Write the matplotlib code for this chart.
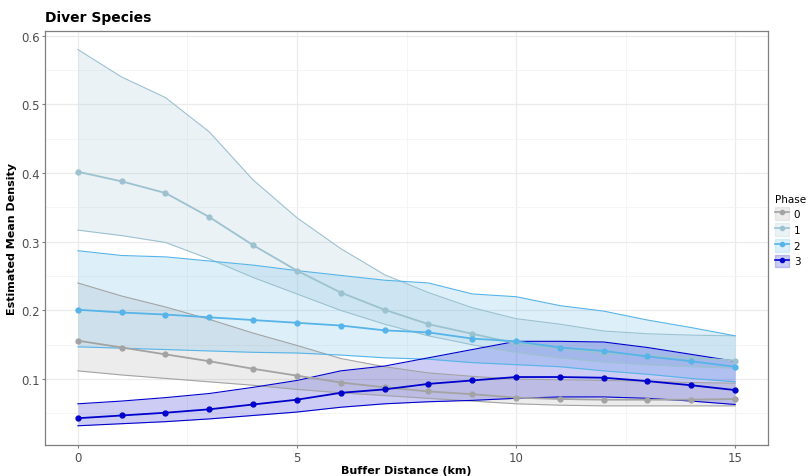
import numpy as np
import matplotlib.pyplot as plt
from matplotlib.lines import Line2D
from matplotlib.patches import Patch

# buffer distances (km)
distance = list(range(16))

phases = ["0", "1", "2", "3"]
colors = ["#A3A3A3", "#9CC2D0", "#56B4E9", "#0000CD"]

mean_0 = [0.156, 0.146, 0.136, 0.126, 0.115, 0.105, 0.095, 0.088, 0.082, 0.078,
          0.073, 0.071, 0.070, 0.070, 0.070, 0.071]
upper_0 = [0.240, 0.221, 0.205, 0.187, 0.167, 0.149, 0.130, 0.118, 0.109, 0.104,
           0.100, 0.099, 0.098, 0.097, 0.095, 0.094]
lower_0 = [0.112, 0.106, 0.101, 0.096, 0.091, 0.085, 0.080, 0.076, 0.072, 0.068,
           0.064, 0.062, 0.061, 0.061, 0.061, 0.061]

mean_1 = [0.402, 0.388, 0.371, 0.336, 0.295, 0.258, 0.226, 0.201, 0.180, 0.166,
          0.152, 0.145, 0.138, 0.134, 0.131, 0.127]
upper_1 = [0.580, 0.540, 0.510, 0.460, 0.390, 0.335, 0.290, 0.252, 0.226, 0.204,
           0.188, 0.180, 0.170, 0.166, 0.164, 0.163]
lower_1 = [0.317, 0.309, 0.299, 0.275, 0.248, 0.224, 0.200, 0.180, 0.163, 0.150,
           0.139, 0.131, 0.125, 0.121, 0.118, 0.116]

mean_2 = [0.201, 0.197, 0.194, 0.190, 0.186, 0.182, 0.178, 0.171, 0.168, 0.159,
          0.155, 0.146, 0.141, 0.133, 0.126, 0.118]
upper_2 = [0.287, 0.280, 0.278, 0.272, 0.266, 0.258, 0.251, 0.244, 0.240, 0.224,
           0.220, 0.207, 0.199, 0.186, 0.175, 0.163]
lower_2 = [0.147, 0.145, 0.143, 0.141, 0.139, 0.138, 0.135, 0.131, 0.129, 0.124,
           0.121, 0.118, 0.112, 0.107, 0.101, 0.096]

mean_3 = [0.043, 0.047, 0.051, 0.056, 0.063, 0.070, 0.080, 0.085, 0.093, 0.098,
          0.103, 0.103, 0.102, 0.097, 0.091, 0.084]
upper_3 = [0.064, 0.068, 0.073, 0.079, 0.088, 0.098, 0.112, 0.119, 0.131, 0.143,
           0.155, 0.155, 0.154, 0.146, 0.136, 0.126]
lower_3 = [0.032, 0.035, 0.038, 0.042, 0.047, 0.052, 0.059, 0.064, 0.067, 0.069,
           0.072, 0.074, 0.074, 0.072, 0.068, 0.063]

means = [mean_0, mean_1, mean_2, mean_3]
uppers = [upper_0, upper_1, upper_2, upper_3]
lowers = [lower_0, lower_1, lower_2, lower_3]

fig = plt.figure(figsize=(8.12, 4.77), dpi=100)
ax = fig.add_axes([45 / 812, 1 - 446 / 477, 723 / 812, 414 / 477])

for i in range(4):
    c = colors[i]
    ax.fill_between(distance, lowers[i], uppers[i], color=c, alpha=0.2, lw=0, zorder=2)
    ax.plot(distance, uppers[i], color=c, lw=0.8, zorder=3)
    ax.plot(distance, lowers[i], color=c, lw=0.8, zorder=3)
    ax.plot(distance, means[i], color=c, lw=1.3, marker="o", ms=3.5, zorder=4)

ax.set_xlim(-0.75, 15.75)
ax.set_ylim(0.004, 0.607)
ax.set_xticks([0, 5, 10, 15])
ax.set_yticks([0.1, 0.2, 0.3, 0.4, 0.5, 0.6])
ax.set_yticklabels(["0.1", "0.2", "0.3", "0.4", "0.5", "0.6"])
ax.set_xticks([2.5, 7.5, 12.5], minor=True)
ax.set_yticks([0.05, 0.15, 0.25, 0.35, 0.45, 0.55], minor=True)
ax.grid(True, which="major", color="#EBEBEB", lw=0.9, zorder=0)
ax.grid(True, which="minor", color="#F4F4F4", lw=0.6, zorder=0)
ax.set_axisbelow(True)
for s in ax.spines.values():
    s.set_color("#7F7F7F")
    s.set_linewidth(0.9)
ax.tick_params(which="major", colors="#7F7F7F", labelcolor="#4D4D4D", labelsize=8.5,
               length=2.5, pad=1.5)
ax.tick_params(which="minor", length=0)

ax.set_xlabel("Buffer Distance (km)", fontsize=8, fontweight="bold", labelpad=1)
ax.set_ylabel("Estimated Mean Density", fontsize=8, fontweight="bold", labelpad=3)
fig.text(45 / 812, 1 - 18 / 477, "Diver Species", fontsize=10, fontweight="bold",
         ha="left", va="center")

handles = []
for c in colors:
    handles.append((Patch(facecolor=c, alpha=0.2, edgecolor=c, lw=1.0),
                    Line2D([], [], color=c, lw=1.2, marker="o", ms=3)))
leg = fig.legend(handles, phases, title="Phase", loc="upper left",
                 bbox_to_anchor=(775 / 812, 1 - 195 / 477), frameon=False,
                 fontsize=7.5, title_fontsize=7.5, handlelength=1.3, handleheight=1.5,
                 handletextpad=0.5, labelspacing=0.3, borderpad=0.0, borderaxespad=0.0)
leg._legend_box.align = "left"

fig.savefig("out.png", dpi=100)
